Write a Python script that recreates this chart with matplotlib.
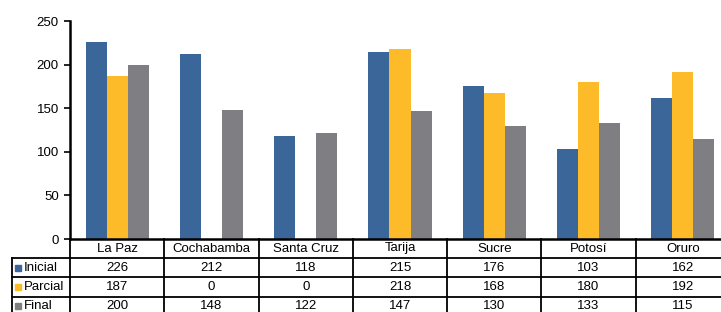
import numpy as np
import matplotlib.pyplot as plt
from matplotlib.patches import Rectangle
from matplotlib.transforms import blended_transform_factory

plt.rcParams["font.family"] = ["Liberation Sans", "DejaVu Sans"]

categories = ["La Paz", "Cochabamba", "Santa Cruz", "Tarija", "Sucre", "Potosí", "Oruro"]
inicial = [226, 212, 118, 215, 176, 103, 162]
parcial = [187, 0, 0, 218, 168, 180, 192]
final = [200, 148, 122, 147, 130, 133, 115]
series_names = ["Inicial", "Parcial", "Final"]
series_colors = ["#3B6699", "#FDBB2A", "#7F7E83"]
yticks = [0, 50, 100, 150, 200, 250]

W, H = 721, 312
fig = plt.figure(figsize=(W / 100, H / 100), dpi=100)

def fx(px):
    return px / W

def fy(py):
    return 1 - py / H

# axes extends slightly past the right edge, like the cropped original
ax_left, ax_right, ax_top, ax_bot = 70, 730, 21, 239
ax = fig.add_axes([fx(ax_left), fy(ax_bot), fx(ax_right - ax_left), (ax_bot - ax_top) / H])

series = [inicial, parcial, final]
x = np.arange(len(categories))
bw = 0.223
for i, (vals, col) in enumerate(zip(series, series_colors)):
    ax.bar(x + (i - 1) * bw, vals, width=bw, color=col, linewidth=0)

ax.set_xlim(-0.5, len(categories) - 0.5)
ax.set_ylim(0, 250)
ax.set_yticks(yticks)
ax.set_yticklabels([str(t) for t in yticks], fontsize=9.5)
ax.set_xticks([])
for s in ["top", "right", "bottom"]:
    ax.spines[s].set_visible(False)
ax.spines["left"].set_linewidth(1.8)
ax.tick_params(axis="y", direction="out", length=4, width=1.2, pad=4)

# data table under the chart
tr = blended_transform_factory(ax.transData, fig.transFigure)
row_edges = [239, 258, 277.3, 296.7, 316]
lw = 1.3
fs = 9.5
n = len(categories)

# horizontal lines
for k, ry in enumerate(row_edges):
    ax.plot([-0.5, n - 0.5], [fy(ry)] * 2, transform=tr, color="black", lw=lw if k else 1.8,
            clip_on=False, solid_capstyle="butt")
# vertical lines
for j in range(n + 1):
    ax.plot([j - 0.5] * 2, [fy(row_edges[0]), fy(row_edges[-1])], transform=tr,
            color="black", lw=lw, clip_on=False)

# label column
lab_left = 12
for ry in row_edges[1:]:
    fig.add_artist(plt.Line2D([fx(lab_left), fx(ax_left)], [fy(ry)] * 2, color="black", lw=lw))
fig.add_artist(plt.Line2D([fx(lab_left)] * 2, [fy(row_edges[1]), fy(row_edges[-1])], color="black", lw=lw))

# header texts
hy = fy((row_edges[0] + row_edges[1]) / 2)
for j, cat in enumerate(categories):
    ax.text(j, hy, cat, transform=tr, ha="center", va="center", fontsize=fs)

for r, (name, col, vals) in enumerate(zip(series_names, series_colors, series)):
    cy = fy((row_edges[r + 1] + row_edges[r + 2]) / 2)
    fig.add_artist(Rectangle((fx(15), cy - 3 / H), 6 / W, 6 / H, color=col, transform=fig.transFigure))
    fig.text(fx(24), cy, name, ha="left", va="center", fontsize=fs)
    for j, v in enumerate(vals):
        ax.text(j, cy, str(v), transform=tr, ha="center", va="center", fontsize=fs)

fig.savefig("out.png", dpi=100)
